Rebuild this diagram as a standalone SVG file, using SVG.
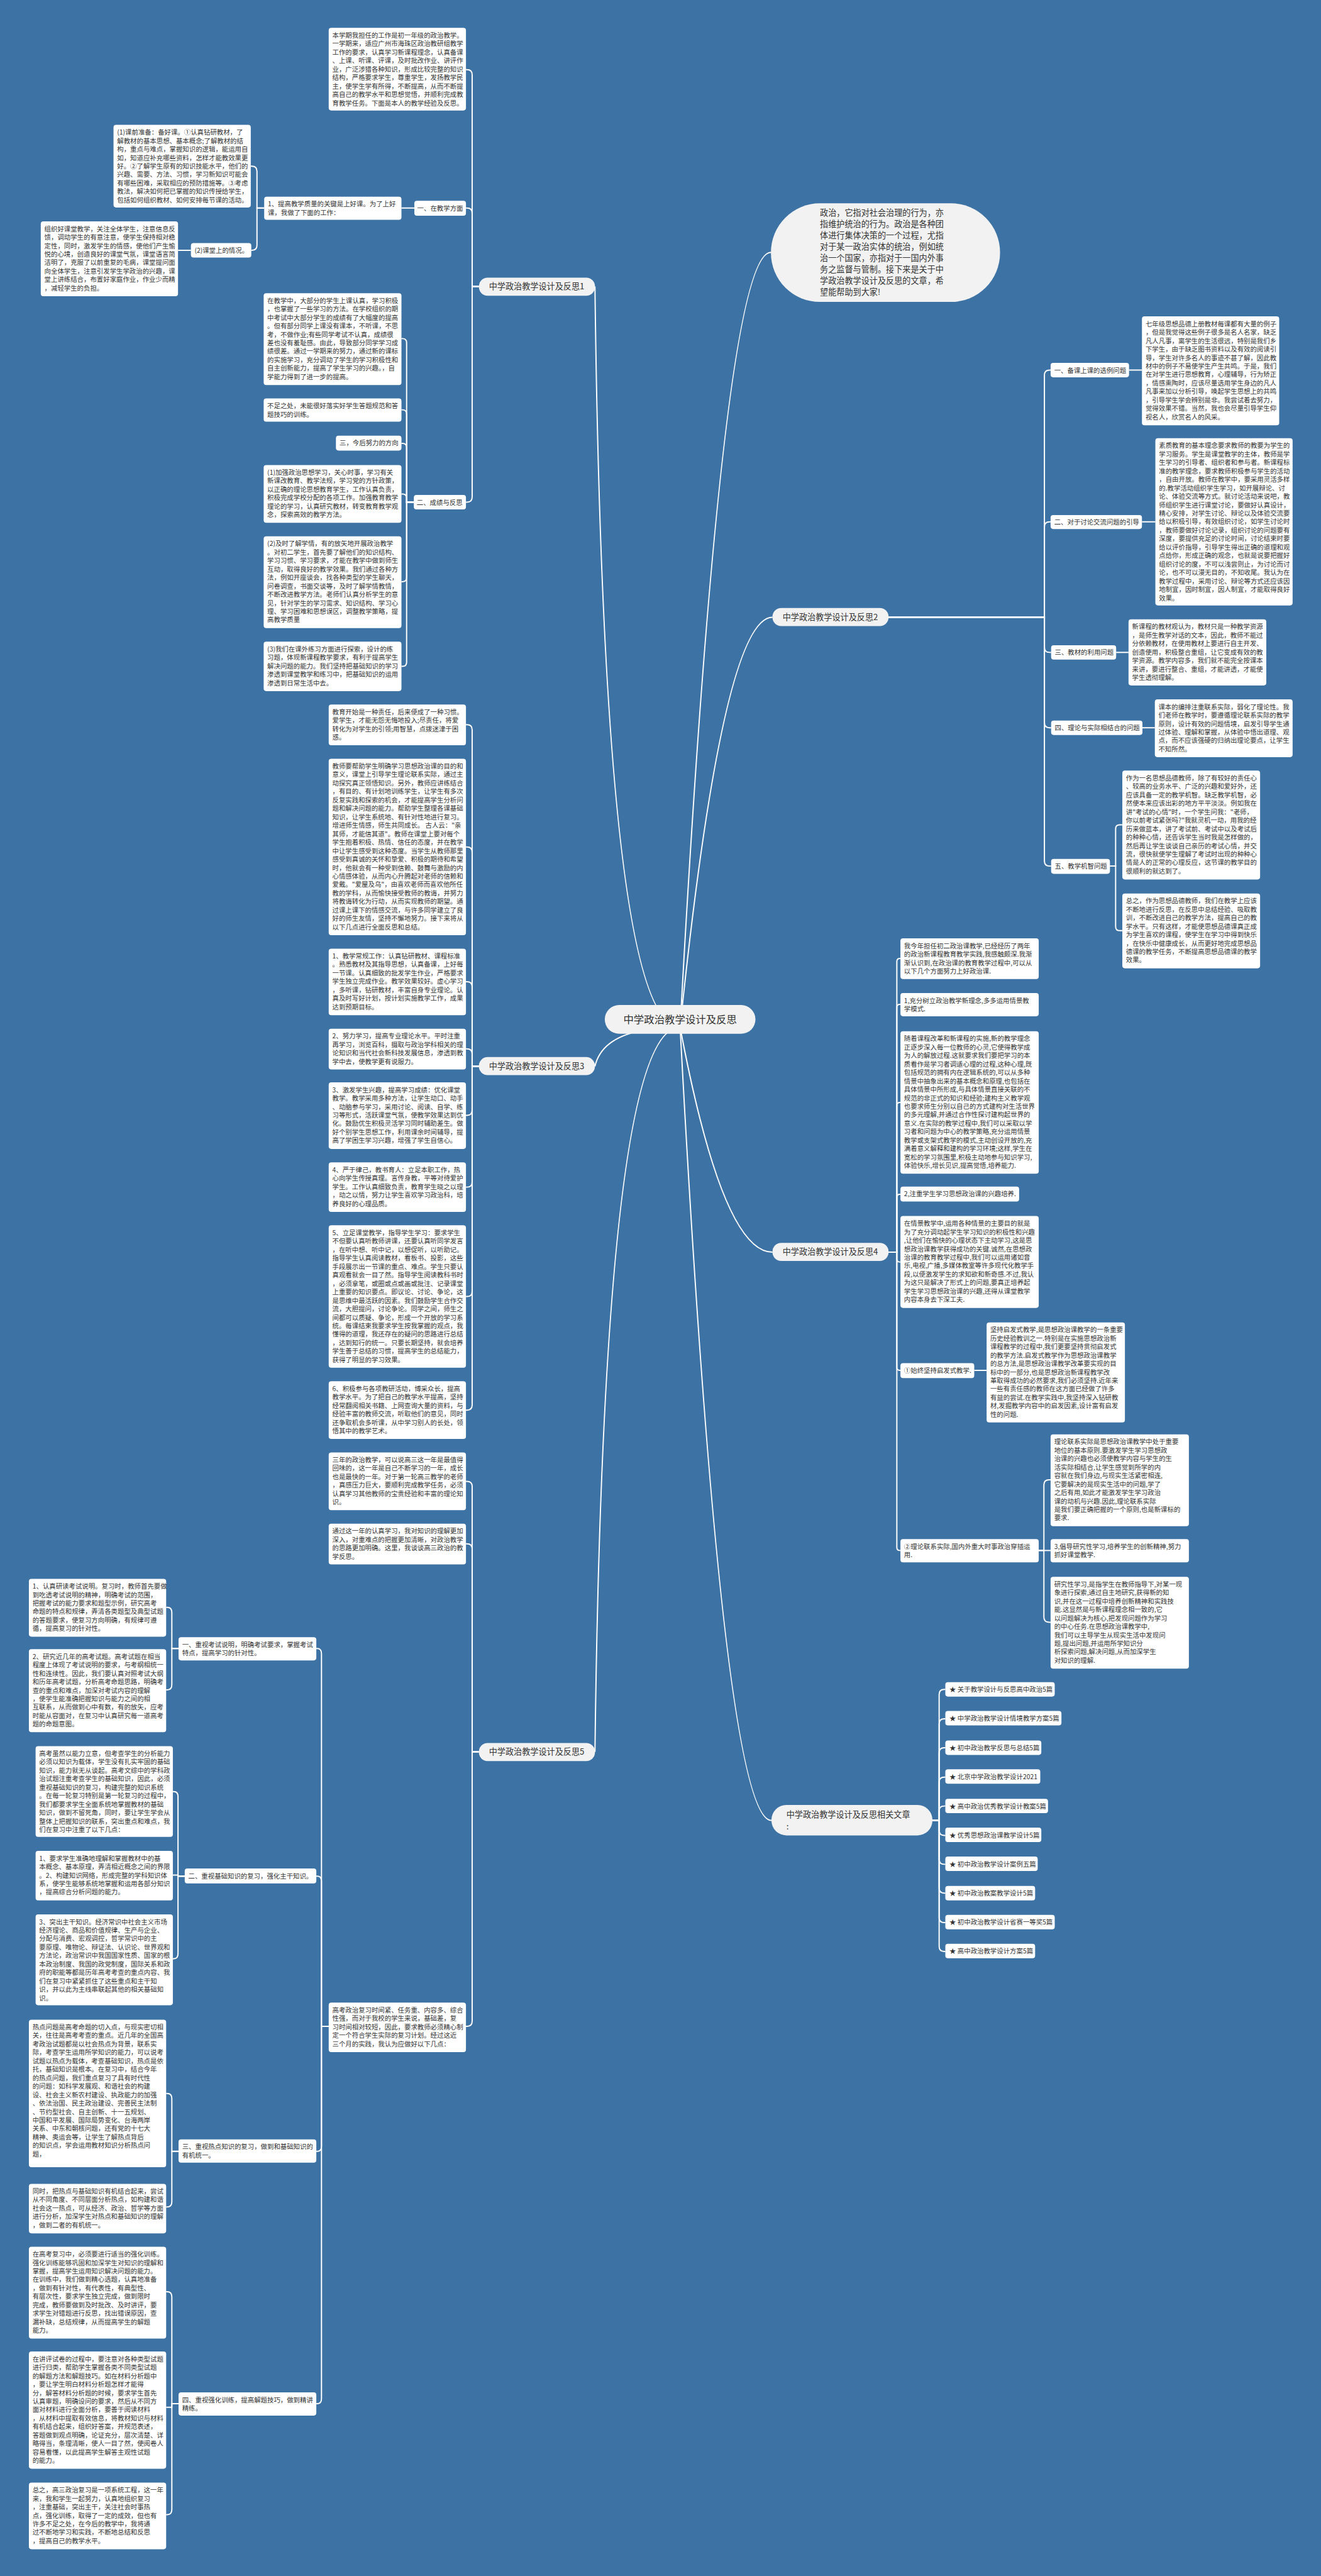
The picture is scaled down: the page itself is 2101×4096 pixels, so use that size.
<svg xmlns="http://www.w3.org/2000/svg" width="2101" height="4096" viewBox="0 0 2101 4096">
<style>
.bg{fill:#3d72a4}
.b{fill:#fff}
.g{fill:#f2f2f2}
.t{font-family:"Noto Sans CJK SC","Noto Sans",sans-serif;font-size:12.7px;fill:#333}
.m{font-family:"Noto Sans CJK SC","Noto Sans",sans-serif;font-size:16px;fill:#333}
.k{font-family:"Noto Sans CJK SC","Noto Sans",sans-serif;font-size:20px;fill:#333}
.c{fill:none;stroke:#fff;stroke-width:2.4}
</style>
<rect class="bg" x="0" y="0" width="2101" height="4096"/>
<g transform="scale(0.8207)">
<g id="connectors">
<path class="c" d="M1318 1990 Q1170 1990 1153 555"/>
<path class="c" d="M1318 1990 Q1170 1990 1153 2066"/>
<path class="c" d="M1318 1990 Q1170 1990 1153 3394"/>
<path class="c" d="M1318 1990 Q1400 489 1494 489"/>
<path class="c" d="M1318 1990 Q1400 1196 1497 1196"/>
<path class="c" d="M1318 1990 Q1400 2426 1497 2426"/>
<path class="c" d="M1318 1990 Q1400 3527 1495 3527"/>
<path class="c" d="M928 555H915V145Q915 135 905 135H903"/>
<path class="c" d="M928 555H915V413Q915 403 905 403H903"/>
<path class="c" d="M928 555H915V963Q915 973 905 973H903"/>
<path class="c" d="M803 403H778"/>
<path class="c" d="M512 403H498V332Q498 322 488 322H486"/>
<path class="c" d="M512 403H498V475Q498 485 488 485H487"/>
<path class="c" d="M370 485H345"/>
<path class="c" d="M802 973H788V664Q788 656 780 656H778"/>
<path class="c" d="M802 973H788V802Q788 794 780 794H778"/>
<path class="c" d="M802 973H788V867Q788 859 780 859H778"/>
<path class="c" d="M802 973H788V965Q788 957 780 957H778"/>
<path class="c" d="M802 973H788V1119Q788 1127 780 1127H778"/>
<path class="c" d="M802 973H788V1283Q788 1291 780 1291H778"/>
<path class="c" d="M1722 1196H2024V727Q2024 717 2034 717H2036"/>
<path class="c" d="M1722 1196H2024V1021Q2024 1011 2034 1011H2036"/>
<path class="c" d="M1722 1196H2024V1254Q2024 1264 2034 1264H2037"/>
<path class="c" d="M1722 1196H2024V1400Q2024 1410 2034 1410H2037"/>
<path class="c" d="M1722 1196H2024V1668Q2024 1678 2034 1678H2037"/>
<path class="c" d="M2188 717H2213"/>
<path class="c" d="M2213 1011H2239"/>
<path class="c" d="M2163 1264H2187"/>
<path class="c" d="M2214 1410H2238"/>
<path class="c" d="M2151 1678H2162V1606Q2162 1598 2170 1598H2175"/>
<path class="c" d="M2151 1678H2162V1795Q2162 1803 2170 1803H2175"/>
<path class="c" d="M928 2066H915V1414Q915 1404 905 1404H903"/>
<path class="c" d="M928 2066H915V1651Q915 1641 905 1641H903"/>
<path class="c" d="M928 2066H915V1912Q915 1902 905 1902H903"/>
<path class="c" d="M928 2066H915V2042Q915 2032 905 2032H903"/>
<path class="c" d="M928 2066H915V2151Q915 2161 905 2161H903"/>
<path class="c" d="M928 2066H915V2290Q915 2300 905 2300H903"/>
<path class="c" d="M928 2066H915V2502Q915 2512 905 2512H903"/>
<path class="c" d="M928 2066H915V2722Q915 2732 905 2732H903"/>
<path class="c" d="M928 3394H915V2880Q915 2870 905 2870H903"/>
<path class="c" d="M928 3394H915V3001Q915 2991 905 2991H903"/>
<path class="c" d="M928 3394H915V3916Q915 3926 905 3926H903"/>
<path class="c" d="M637 3926H623V3204Q623 3194 615 3194H613"/>
<path class="c" d="M637 3926H623V3645Q623 3635 615 3635H613"/>
<path class="c" d="M637 3926H623V4158Q623 4168 615 4168H613"/>
<path class="c" d="M637 3926H623V4647Q623 4657 615 4657H613"/>
<path class="c" d="M346 3194H333V3124Q333 3114 324 3114H322"/>
<path class="c" d="M346 3194H333V3264Q333 3274 324 3274H322"/>
<path class="c" d="M358 3635H345V3481Q345 3471 337 3471H335"/>
<path class="c" d="M358 3635H345V3633H335"/>
<path class="c" d="M358 3635H345V3785Q345 3795 337 3795H335"/>
<path class="c" d="M346 4168H333V4066Q333 4056 324 4056H322"/>
<path class="c" d="M346 4168H333V4266Q333 4276 324 4276H322"/>
<path class="c" d="M346 4657H333V4450Q333 4440 324 4440H322"/>
<path class="c" d="M346 4657H333V4664H322"/>
<path class="c" d="M346 4657H333V4862Q333 4872 324 4872H322"/>
<path class="c" d="M1722 2426H1738V1863Q1738 1857 1744 1857H1745"/>
<path class="c" d="M1722 2426H1738V1952Q1738 1946 1744 1946H1745"/>
<path class="c" d="M1722 2426H1738V2142Q1738 2136 1744 2136H1745"/>
<path class="c" d="M1722 2426H1738V2320Q1738 2314 1744 2314H1745"/>
<path class="c" d="M1722 2426H1738V2439Q1738 2445 1744 2445H1745"/>
<path class="c" d="M1722 2426H1738V2649Q1738 2655 1744 2655H1745"/>
<path class="c" d="M1722 2426H1738V2998Q1738 3004 1744 3004H1745"/>
<path class="c" d="M1888 2655H1912"/>
<path class="c" d="M2013 3004H2023V2877Q2023 2867 2033 2867H2036"/>
<path class="c" d="M2013 3004H2036"/>
<path class="c" d="M2013 3004H2023V3133Q2023 3143 2033 3143H2036"/>
<path class="c" d="M1807 3527H1820V3283Q1820 3273 1830 3273H1832"/>
<path class="c" d="M1807 3527H1820V3340Q1820 3330 1830 3330H1832"/>
<path class="c" d="M1807 3527H1820V3396Q1820 3386 1830 3386H1832"/>
<path class="c" d="M1807 3527H1820V3453Q1820 3443 1830 3443H1832"/>
<path class="c" d="M1807 3527H1820V3509Q1820 3499 1830 3499H1832"/>
<path class="c" d="M1807 3527H1820V3546Q1820 3556 1830 3556H1832"/>
<path class="c" d="M1807 3527H1820V3602Q1820 3612 1830 3612H1832"/>
<path class="c" d="M1807 3527H1820V3658Q1820 3668 1830 3668H1832"/>
<path class="c" d="M1807 3527H1820V3715Q1820 3725 1830 3725H1832"/>
<path class="c" d="M1807 3527H1820V3771Q1820 3781 1830 3781H1832"/>
</g>

<g id="center"><rect class="g" x="1172" y="1947" width="292" height="56" rx="28"/><text class="k" x="1318" y="1982" text-anchor="middle">中学政治教学设计及反思</text></g>

<g id="intro"><rect class="g" x="1494" y="394" width="444" height="191" rx="95"/><text class="m" x="1589" y="418"><tspan x="1589">政治，它指对社会治理的行为，亦</tspan><tspan x="1589" dy="21.9">指维护统治的行为。政治是各种团</tspan><tspan x="1589" dy="21.9">体进行集体决策的一个过程，尤指</tspan><tspan x="1589" dy="21.9">对于某一政治实体的统治，例如统</tspan><tspan x="1589" dy="21.9">治一个国家，亦指对于一国内外事</tspan><tspan x="1589" dy="21.9">务之监督与管制。接下来是关于中</tspan><tspan x="1589" dy="21.9">学政治教学设计及反思的文章，希</tspan><tspan x="1589" dy="21.9">望能帮助到大家!</tspan></text></g>

<g id="br1"><rect class="g" x="928" y="538" width="225" height="35" rx="17"/><text class="m" x="1040" y="561" text-anchor="middle">中学政治教学设计及反思1</text></g>
<g id="b1a"><rect class="b" x="637" y="54" width="266" height="160" rx="5"/><text class="t" x="644" y="73"><tspan x="644">本学期我担任的工作是初一年级的政治教学。</tspan><tspan x="644" dy="16.4">一学期来，适应广州市海珠区政治教研组教学</tspan><tspan x="644" dy="16.4">工作的要求，认真学习新课程理念，认真备课</tspan><tspan x="644" dy="16.4">、上课、听课、评课，及时批改作业、讲评作</tspan><tspan x="644" dy="16.4">业，广泛涉猎各种知识，形成比较完整的知识</tspan><tspan x="644" dy="16.4">结构，严格要求学生，尊重学生，发扬教学民</tspan><tspan x="644" dy="16.4">主，使学生学有所得，不断提高，从而不断提</tspan><tspan x="644" dy="16.4">高自己的教学水平和思想觉悟，并顺利完成教</tspan><tspan x="644" dy="16.4">育教学任务。下面是本人的教学经验及反思。</tspan></text></g>
<g id="b1s1"><rect class="b" x="803" y="389" width="100" height="29" rx="5"/><text class="t" x="853" y="408" text-anchor="middle">一、在教学方面</text></g>
<g id="b1s1a"><rect class="b" x="512" y="381" width="266" height="45" rx="5"/><text class="t" x="519" y="400"><tspan x="519">1、提高教学质量的关键是上好课。为了上好</tspan><tspan x="519" dy="16.4">课，我做了下面的工作：</tspan></text></g>
<g id="b1p1"><rect class="b" x="220" y="242" width="266" height="160" rx="5"/><text class="t" x="227" y="261"><tspan x="227">(1)课前准备：备好课。①认真钻研教材，了</tspan><tspan x="227" dy="16.4">解教材的基本思想、基本概念;了解教材的结</tspan><tspan x="227" dy="16.4">构，重点与难点，掌握知识的逻辑，能运用自</tspan><tspan x="227" dy="16.4">如，知道应补充哪些资料，怎样才能教效果更</tspan><tspan x="227" dy="16.4">好。②了解学生原有的知识技能水平，他们的</tspan><tspan x="227" dy="16.4">兴趣、需要、方法、习惯，学习新知识可能会</tspan><tspan x="227" dy="16.4">有哪些困难，采取相应的预防措施等。③考虑</tspan><tspan x="227" dy="16.4">教法，解决如何把已掌握的知识传授给学生，</tspan><tspan x="227" dy="16.4">包括如何组织教材、如何安排每节课的活动。</tspan></text></g>
<g id="b1p2"><rect class="b" x="370" y="471" width="117" height="28" rx="5"/><text class="t" x="377" y="490">(2)课堂上的情况。</text></g>
<g id="b1p2a"><rect class="b" x="79" y="429" width="266" height="145" rx="5"/><text class="t" x="86" y="448"><tspan x="86">组织好课堂教学，关注全体学生，注意信息反</tspan><tspan x="86" dy="16.4">馈，调动学生的有意注意，使学生保持相对稳</tspan><tspan x="86" dy="16.4">定性，同时，激发学生的情感，使他们产生愉</tspan><tspan x="86" dy="16.4">悦的心境，创造良好的课堂气氛，课堂语言简</tspan><tspan x="86" dy="16.4">洁明了，克服了以前重复的毛病，课堂提问面</tspan><tspan x="86" dy="16.4">向全体学生，注意引发学生学政治的兴趣，课</tspan><tspan x="86" dy="16.4">堂上讲练结合，布置好家庭作业，作业少而精</tspan><tspan x="86" dy="16.4">，减轻学生的负担。</tspan></text></g>
<g id="b1s2"><rect class="b" x="802" y="959" width="101" height="28" rx="5"/><text class="t" x="852" y="978" text-anchor="middle">二、成绩与反思</text></g>
<g id="b1b"><rect class="b" x="511" y="568" width="267" height="178" rx="5"/><text class="t" x="518" y="587"><tspan x="518">在教学中，大部分的学生上课认真，学习积极</tspan><tspan x="518" dy="16.4">，也掌握了一些学习的方法。在学校组织的期</tspan><tspan x="518" dy="16.4">中考试中大部分学生的成绩有了大幅度的提高</tspan><tspan x="518" dy="16.4">。但有部分同学上课没有课本，不听课，不思</tspan><tspan x="518" dy="16.4">考，不做作业;有些同学考试不认真，成绩很</tspan><tspan x="518" dy="16.4">差也没有羞耻感。由此，导致部分同学学习成</tspan><tspan x="518" dy="16.4">绩很差。通过一学期来的努力，通过新的课标</tspan><tspan x="518" dy="16.4">的实施学习，充分调动了学生的学习积极性和</tspan><tspan x="518" dy="16.4">自主创新能力，提高了学生学习的兴趣。，自</tspan><tspan x="518" dy="16.4">学能力得到了进一步的提高。</tspan></text></g>
<g id="b1c"><rect class="b" x="511" y="772" width="267" height="45" rx="5"/><text class="t" x="518" y="791"><tspan x="518">不足之处，未能很好落实好学生答题规范和答</tspan><tspan x="518" dy="16.4">题技巧的训练。</tspan></text></g>
<g id="b1d0"><rect class="b" x="651" y="844" width="127" height="29" rx="5"/><text class="t" x="658" y="863">三，今后努力的方向</text></g>
<g id="b1d"><rect class="b" x="511" y="901" width="267" height="112" rx="5"/><text class="t" x="518" y="920"><tspan x="518">(1)加强政治思想学习，关心时事，学习有关</tspan><tspan x="518" dy="16.4">新课改教育、教学法规，学习党的方针政策，</tspan><tspan x="518" dy="16.4">以正确的理论思想教育学生，工作认真负责，</tspan><tspan x="518" dy="16.4">积极完成学校分配的各项工作。加强教育教学</tspan><tspan x="518" dy="16.4">理论的学习，认真研究教材，转变教育教学观</tspan><tspan x="518" dy="16.4">念，探索高效的教学方法。</tspan></text></g>
<g id="b1e"><rect class="b" x="511" y="1039" width="267" height="178" rx="5"/><text class="t" x="518" y="1058"><tspan x="518">(2)及时了解学情，有的放矢地开展政治教学</tspan><tspan x="518" dy="16.4">。对初二学生，首先要了解他们的知识结构、</tspan><tspan x="518" dy="16.4">学习习惯、学习要求，才能在教学中做到师生</tspan><tspan x="518" dy="16.4">互动，取得良好的教学效果。我们通过各种方</tspan><tspan x="518" dy="16.4">法，例如开座谈会，找各种类型的学生聊天，</tspan><tspan x="518" dy="16.4">问卷调查，书面交谈等，及时了解学情教情，</tspan><tspan x="518" dy="16.4">不断改进教学方法。老师们认真分析学生的意</tspan><tspan x="518" dy="16.4">见，针对学生的学习需求、知识结构、学习心</tspan><tspan x="518" dy="16.4">理、学习困难和思想误区，调整教学策略，提</tspan><tspan x="518" dy="16.4">高教学质量</tspan></text></g>
<g id="b1f"><rect class="b" x="511" y="1243" width="267" height="96" rx="5"/><text class="t" x="518" y="1262"><tspan x="518">(3)我们在课外练习方面进行探索，设计的练</tspan><tspan x="518" dy="16.4">习题，体现新课程教学要求，有利于提高学生</tspan><tspan x="518" dy="16.4">解决问题的能力。我们坚持把基础知识的学习</tspan><tspan x="518" dy="16.4">渗透到课堂教学和练习中，把基础知识的运用</tspan><tspan x="518" dy="16.4">渗透到日常生活中去。</tspan></text></g>

<g id="br2"><rect class="g" x="1497" y="1178" width="225" height="35" rx="17"/><text class="m" x="1609" y="1201" text-anchor="middle">中学政治教学设计及反思2</text></g>
<g id="b2s1"><rect class="b" x="2036" y="703" width="152" height="28" rx="5"/><text class="t" x="2043" y="722">一、备课上课的选例问题</text></g>
<g id="b2g"><rect class="b" x="2213" y="613" width="266" height="211" rx="5"/><text class="t" x="2220" y="632"><tspan x="2220">七年级思想品德上册教材每课都有大量的例子</tspan><tspan x="2220" dy="16.4">，但是我觉得这些例子很多是名人名家，缺乏</tspan><tspan x="2220" dy="16.4">凡人凡事，离学生的生活很远，特别是我们乡</tspan><tspan x="2220" dy="16.4">下学生，由于缺乏图书资料以及有效的阅读引</tspan><tspan x="2220" dy="16.4">导，学生对许多名人的事迹不甚了解，因此教</tspan><tspan x="2220" dy="16.4">材中的例子不易使学生产生共鸣。于是，我们</tspan><tspan x="2220" dy="16.4">在对学生进行思想教育，心理辅导，行为矫正</tspan><tspan x="2220" dy="16.4">，情感熏陶时，应该尽量选用学生身边的凡人</tspan><tspan x="2220" dy="16.4">凡事来加以分析引导，唤起学生思想上的共鸣</tspan><tspan x="2220" dy="16.4">，引导学生学会辨别是非。我尝试着去努力，</tspan><tspan x="2220" dy="16.4">觉得效果不错。当然，我也会尽量引导学生仰</tspan><tspan x="2220" dy="16.4">视名人，欣赏名人的风采。</tspan></text></g>
<g id="b2s2"><rect class="b" x="2036" y="998" width="177" height="27" rx="5"/><text class="t" x="2043" y="1016">二、对于讨论交流问题的引导</text></g>
<g id="b2h"><rect class="b" x="2239" y="849" width="266" height="324" rx="5"/><text class="t" x="2246" y="868"><tspan x="2246">素质教育的基本理念要求教师的教要为学生的</tspan><tspan x="2246" dy="16.4">学习服务。学生是课堂教学的主体，教师是学</tspan><tspan x="2246" dy="16.4">生学习的引导者、组织者和参与者。新课程标</tspan><tspan x="2246" dy="16.4">准的教学理念，要求教师积极参与学生的活动</tspan><tspan x="2246" dy="16.4">，自由开放。教师在教学中，要采用灵活多样</tspan><tspan x="2246" dy="16.4">的.教学活动组织学生学习，如开展辩论、讨</tspan><tspan x="2246" dy="16.4">论、体验交流等方式。就讨论活动来说吧，教</tspan><tspan x="2246" dy="16.4">师组织学生进行课堂讨论，要做好认真设计，</tspan><tspan x="2246" dy="16.4">精心安排，对学生讨论、辩论以及体验交流要</tspan><tspan x="2246" dy="16.4">给以积极引导，有效组织讨论，如学生讨论时</tspan><tspan x="2246" dy="16.4">，教师要做好讨论记录，组织讨论的问题要有</tspan><tspan x="2246" dy="16.4">深度，要提供充足的讨论时间，讨论结束时要</tspan><tspan x="2246" dy="16.4">给以评价指导，引导学生得出正确的道理和观</tspan><tspan x="2246" dy="16.4">点给你，形成正确的观念，也就是说要把握好</tspan><tspan x="2246" dy="16.4">组织讨论的度，不可以浅尝则止，为讨论而讨</tspan><tspan x="2246" dy="16.4">论，也不可以漫无目的，不知收尾。我认为在</tspan><tspan x="2246" dy="16.4">教学过程中，采用讨论、辩论等方式还应该因</tspan><tspan x="2246" dy="16.4">地制宜，因时制宜，因人制宜，才能取得良好</tspan><tspan x="2246" dy="16.4">效果。</tspan></text></g>
<g id="b2s3"><rect class="b" x="2037" y="1250" width="126" height="28" rx="5"/><text class="t" x="2044" y="1269">三、教材的利用问题</text></g>
<g id="b2i"><rect class="b" x="2187" y="1200" width="267" height="128" rx="5"/><text class="t" x="2194" y="1219"><tspan x="2194">新课程的教材观认为，教材只是一种教学资源</tspan><tspan x="2194" dy="16.4">，是师生教学对话的文本，因此，教师不能过</tspan><tspan x="2194" dy="16.4">分依赖教材，在使用教材上要进行自主开发、</tspan><tspan x="2194" dy="16.4">创造使用，积极整合重组，让它变成有效的教</tspan><tspan x="2194" dy="16.4">学资源。教学内容多，我们就不能完全按课本</tspan><tspan x="2194" dy="16.4">来讲，要进行整合、重组，才能讲透，才能使</tspan><tspan x="2194" dy="16.4">学生透彻理解。</tspan></text></g>
<g id="b2s4"><rect class="b" x="2037" y="1396" width="177" height="28" rx="5"/><text class="t" x="2044" y="1415">四、理论与实际相结合的问题</text></g>
<g id="b2j"><rect class="b" x="2238" y="1355" width="267" height="112" rx="5"/><text class="t" x="2245" y="1374"><tspan x="2245">课本的编排注重联系实际，弱化了理论性。我</tspan><tspan x="2245" dy="16.4">们老师在教学时，要遵循理论联系实际的教学</tspan><tspan x="2245" dy="16.4">原则，设计有效的问题情境，启发引导学生通</tspan><tspan x="2245" dy="16.4">过体验、理解和掌握，从体验中悟出道理、观</tspan><tspan x="2245" dy="16.4">点，而不应该强硬的归纳出理论要点，让学生</tspan><tspan x="2245" dy="16.4">不知所然。</tspan></text></g>
<g id="b2s5"><rect class="b" x="2037" y="1664" width="114" height="29" rx="5"/><text class="t" x="2044" y="1683">五、教学机智问题</text></g>
<g id="b2k"><rect class="b" x="2175" y="1493" width="267" height="211" rx="5"/><text class="t" x="2182" y="1512"><tspan x="2182">作为一名思想品德教师，除了有较好的责任心</tspan><tspan x="2182" dy="16.4">、较高的业务水平、广泛的兴趣和爱好外，还</tspan><tspan x="2182" dy="16.4">应该具备一定的教学机智。缺乏教学机智，必</tspan><tspan x="2182" dy="16.4">然使本来应该出彩的地方平平淡淡。例如我在</tspan><tspan x="2182" dy="16.4">讲"考试的心情"时，一个学生问我："老师，</tspan><tspan x="2182" dy="16.4">你以前考试紧张吗?"我就灵机一动，用我的经</tspan><tspan x="2182" dy="16.4">历来做蓝本，讲了考试前、考试中以及考试后</tspan><tspan x="2182" dy="16.4">的种种心情，还告诉学生当时我是怎样做的，</tspan><tspan x="2182" dy="16.4">然后再让学生谈谈自己亲历的考试心情，并交</tspan><tspan x="2182" dy="16.4">流，很快就使学生理解了考试时出现的种种心</tspan><tspan x="2182" dy="16.4">情是人的正常的心理反应，这节课的教学目的</tspan><tspan x="2182" dy="16.4">很顺利的就达到了。</tspan></text></g>
<g id="b2l"><rect class="b" x="2175" y="1731" width="267" height="145" rx="5"/><text class="t" x="2182" y="1750"><tspan x="2182">总之，作为思想品德教师，我们在教学上应该</tspan><tspan x="2182" dy="16.4">不断地进行反思，在反思中总结经验、吸取教</tspan><tspan x="2182" dy="16.4">训，不断改进自己的教学方法，提高自己的教</tspan><tspan x="2182" dy="16.4">学水平。只有这样，才能使思想品德课真正成</tspan><tspan x="2182" dy="16.4">为学生喜欢的课程，使学生在学习中得到快乐</tspan><tspan x="2182" dy="16.4">，在快乐中健康成长，从而更好地完成思想品</tspan><tspan x="2182" dy="16.4">德课的教学任务，不断提高思想品德课的教学</tspan><tspan x="2182" dy="16.4">效果。</tspan></text></g>

<g id="br3"><rect class="g" x="928" y="2048" width="225" height="35" rx="17"/><text class="m" x="1040" y="2071" text-anchor="middle">中学政治教学设计及反思3</text></g>
<g id="b3m"><rect class="b" x="637" y="1365" width="266" height="79" rx="5"/><text class="t" x="644" y="1384"><tspan x="644">教育开始是一种责任，后来便成了一种习惯。</tspan><tspan x="644" dy="16.4">爱学生，才能无怨无悔地投入;尽责任，将爱</tspan><tspan x="644" dy="16.4">转化为对学生的引领;用智慧，点拨迷津于困</tspan><tspan x="644" dy="16.4">惑。</tspan></text></g>
<g id="b3n"><rect class="b" x="637" y="1470" width="266" height="342" rx="5"/><text class="t" x="644" y="1489"><tspan x="644">教师要帮助学生明确学习思想政治课的目的和</tspan><tspan x="644" dy="16.4">意义，课堂上引导学生理论联系实际，通过主</tspan><tspan x="644" dy="16.4">动探究真正领悟知识。另外，教师应讲练结合</tspan><tspan x="644" dy="16.4">，有目的、有计划地训练学生，让学生有多次</tspan><tspan x="644" dy="16.4">反复实践和探索的机会，才能提高学生分析问</tspan><tspan x="644" dy="16.4">题和解决问题的能力。帮助学生整理各课基础</tspan><tspan x="644" dy="16.4">知识，让学生系统地、有针对性地进行复习。</tspan><tspan x="644" dy="16.4">增进师生情感，师生共同成长。 古人云："亲</tspan><tspan x="644" dy="16.4">其师，才能信其道"。教师在课堂上要对每个</tspan><tspan x="644" dy="16.4">学生抱着积极、热情、信任的态度，并在教学</tspan><tspan x="644" dy="16.4">中让学生感受到这种态度。当学生从教师那里</tspan><tspan x="644" dy="16.4">感受到真诚的关怀和挚爱、积极的期待和希望</tspan><tspan x="644" dy="16.4">时，他就会有一种受到信赖、鼓舞与激励的内</tspan><tspan x="644" dy="16.4">心情感体验，从而内心升腾起对老师的信赖和</tspan><tspan x="644" dy="16.4">爱戴。"爱屋及乌"，由喜欢老师而喜欢他所任</tspan><tspan x="644" dy="16.4">教的学科，从而愉快接受教师的教诲，并努力</tspan><tspan x="644" dy="16.4">将教诲转化为行动，从而实现教师的期望。通</tspan><tspan x="644" dy="16.4">过课上课下的情感交流，与许多同学建立了良</tspan><tspan x="644" dy="16.4">好的师生友情，坚持不懈地努力。接下来将从</tspan><tspan x="644" dy="16.4">以下几点进行全面反思和总结。</tspan></text></g>
<g id="b3o"><rect class="b" x="637" y="1838" width="266" height="129" rx="5"/><text class="t" x="644" y="1857"><tspan x="644">1、教学常规工作：认真钻研教材、课程标准</tspan><tspan x="644" dy="16.4">。熟悉教材及其指导思想，认真备课，上好每</tspan><tspan x="644" dy="16.4">一节课。认真细致的批发学生作业，严格要求</tspan><tspan x="644" dy="16.4">学生独立完成作业。教学效果较好。虚心学习</tspan><tspan x="644" dy="16.4">，多听课，钻研教材，丰富自身专业理论。认</tspan><tspan x="644" dy="16.4">真及时写好计划，按计划实施教学工作，成果</tspan><tspan x="644" dy="16.4">达到预期目标。</tspan></text></g>
<g id="b3p"><rect class="b" x="637" y="1993" width="266" height="79" rx="5"/><text class="t" x="644" y="2012"><tspan x="644">2、努力学习，提高专业理论水平。平时注重</tspan><tspan x="644" dy="16.4">再学习，浏览百科，摄取与政治学科相关的理</tspan><tspan x="644" dy="16.4">论知识和当代社会新科技发展信息，渗透到教</tspan><tspan x="644" dy="16.4">学中去，使教学更有说服力。</tspan></text></g>
<g id="b3q"><rect class="b" x="637" y="2097" width="266" height="129" rx="5"/><text class="t" x="644" y="2116"><tspan x="644">3、激发学生兴趣，提高学习成绩：优化课堂</tspan><tspan x="644" dy="16.4">教学。教学采用多种方法，让学生动口、动手</tspan><tspan x="644" dy="16.4">、动脑参与学习，采用讨论、阅读、自学、练</tspan><tspan x="644" dy="16.4">习等形式，活跃课堂气氛，使教学效果达到优</tspan><tspan x="644" dy="16.4">化。鼓励优生积极灵活学习同时辅助差生。做</tspan><tspan x="644" dy="16.4">好个别学生思想工作，利用课余时间辅导，提</tspan><tspan x="644" dy="16.4">高了学困生学习兴趣，增强了学生自信心。</tspan></text></g>
<g id="b3r"><rect class="b" x="637" y="2252" width="266" height="96" rx="5"/><text class="t" x="644" y="2271"><tspan x="644">4、严于律己，教书育人：立足本职工作，热</tspan><tspan x="644" dy="16.4">心向学生传授真理。言传身教，平等对待爱护</tspan><tspan x="644" dy="16.4">学生。工作认真细致负责，教育学生晓之以理</tspan><tspan x="644" dy="16.4">，动之以情，努力让学生喜欢学习政治科，培</tspan><tspan x="644" dy="16.4">养良好的心理品质。</tspan></text></g>
<g id="b3s"><rect class="b" x="637" y="2374" width="266" height="276" rx="5"/><text class="t" x="644" y="2393"><tspan x="644">5、立足课堂教学，指导学生学习：要求学生</tspan><tspan x="644" dy="16.4">不但要认真听教师讲课，还要认真听同学发言</tspan><tspan x="644" dy="16.4">，在听中想、听中记，以想促听，以听助记。</tspan><tspan x="644" dy="16.4">指导学生认真阅读教材，看板书、投影，这些</tspan><tspan x="644" dy="16.4">手段展示出一节课的重点、难点。学生只要认</tspan><tspan x="644" dy="16.4">真观看就会一目了然。指导学生阅读教科书时</tspan><tspan x="644" dy="16.4">，必须拿笔，或圈或点或画或批注、记录课堂</tspan><tspan x="644" dy="16.4">上重要的知识要点。即议论、讨论、争论，这</tspan><tspan x="644" dy="16.4">是思维中最活跃的因素。我们鼓励学生合作交</tspan><tspan x="644" dy="16.4">流，大胆提问，讨论争论。同学之间，师生之</tspan><tspan x="644" dy="16.4">间都可以质疑、争论，形成一个开放的学习系</tspan><tspan x="644" dy="16.4">统。每课结束我要求学生按我掌握的观点，我</tspan><tspan x="644" dy="16.4">懂得的道理，我还存在的疑问的思路进行总结</tspan><tspan x="644" dy="16.4">，达到知行的统一。只要长期坚持，就会培养</tspan><tspan x="644" dy="16.4">学生善于总结的习惯，提高学生的总结能力，</tspan><tspan x="644" dy="16.4">获得了明显的学习效果。</tspan></text></g>
<g id="b3t"><rect class="b" x="637" y="2676" width="266" height="112" rx="5"/><text class="t" x="644" y="2695"><tspan x="644">6、积极参与各项教研活动，博采众长，提高</tspan><tspan x="644" dy="16.4">教学水平。为了把自己的教学水平提高，坚持</tspan><tspan x="644" dy="16.4">经常翻阅相关书籍、上网查询大量的资料，与</tspan><tspan x="644" dy="16.4">经验丰富的教师交流，听取他们的意见，同时</tspan><tspan x="644" dy="16.4">还争取机会多听课，从中学习别人的长处，领</tspan><tspan x="644" dy="16.4">悟其中的教学艺术。</tspan></text></g>

<g id="br5"><rect class="g" x="928" y="3377" width="225" height="35" rx="17"/><text class="m" x="1040" y="3400" text-anchor="middle">中学政治教学设计及反思5</text></g>
<g id="b5u"><rect class="b" x="637" y="2814" width="266" height="112" rx="5"/><text class="t" x="644" y="2833"><tspan x="644">三年的政治教学，可以说高三这一年是最值得</tspan><tspan x="644" dy="16.4">回味的，这一年是自己不断学习的一年，成长</tspan><tspan x="644" dy="16.4">也是最快的一年。对于第一轮高三教学的老师</tspan><tspan x="644" dy="16.4">，真感压力巨大，要顺利完成教学任务，必须</tspan><tspan x="644" dy="16.4">认真学习其他教师的宝贵经验和丰富的理论知</tspan><tspan x="644" dy="16.4">识。</tspan></text></g>
<g id="b5v"><rect class="b" x="637" y="2952" width="266" height="79" rx="5"/><text class="t" x="644" y="2971"><tspan x="644">通过这一年的认真学习，我对知识的理解更加</tspan><tspan x="644" dy="16.4">深入，对重难点的把握更加清晰，对政治教学</tspan><tspan x="644" dy="16.4">的思路更加明确。这里，我谈谈高三政治的教</tspan><tspan x="644" dy="16.4">学反思。</tspan></text></g>
<g id="b5w"><rect class="b" x="637" y="3880" width="266" height="96" rx="5"/><text class="t" x="644" y="3899"><tspan x="644">高考政治复习时间紧、任务重、内容多、综合</tspan><tspan x="644" dy="16.4">性强，而对于我校的学生来说，基础差，复</tspan><tspan x="644" dy="16.4">习时间相对较短，因此，要求教师必须精心制</tspan><tspan x="644" dy="16.4">定一个符合学生实际的复习计划。经过这近</tspan><tspan x="644" dy="16.4">三个月的实践，我认为应做好以下几点：</tspan></text></g>
<g id="b5s1"><rect class="b" x="346" y="3172" width="267" height="45" rx="5"/><text class="t" x="353" y="3191"><tspan x="353">一、重视考试说明，明确考试要求，掌握考试</tspan><tspan x="353" dy="16.4">特点，提高学习的针对性。</tspan></text></g>
<g id="b5s2"><rect class="b" x="358" y="3620" width="255" height="29" rx="5"/><text class="t" x="365" y="3639">二、重视基础知识的复习，强化主干知识。</text></g>
<g id="b5s3"><rect class="b" x="346" y="4145" width="267" height="45" rx="5"/><text class="t" x="353" y="4164"><tspan x="353">三、重视热点知识的复习，做到和基础知识的</tspan><tspan x="353" dy="16.4">有机统一。</tspan></text></g>
<g id="b5s4"><rect class="b" x="346" y="4635" width="267" height="45" rx="5"/><text class="t" x="353" y="4654"><tspan x="353">四、重视强化训练，提高解题技巧，做到精讲</tspan><tspan x="353" dy="16.4">精练。</tspan></text></g>
<g id="b5z1"><rect class="b" x="56" y="3059" width="266" height="112" rx="5"/><text class="t" x="63" y="3078"><tspan x="63">1、认真研读考试说明。复习时，教师首先要做</tspan><tspan x="63" dy="16.4">到吃透考试说明的精神，明确考试的范围，</tspan><tspan x="63" dy="16.4">把握考试的能力要求和题型示例，研究高考</tspan><tspan x="63" dy="16.4">命题的特点和规律，弄清各类题型及典型试题</tspan><tspan x="63" dy="16.4">的答题要求，使复习方向明确，有规律可遵</tspan><tspan x="63" dy="16.4">循，提高复习的针对性。</tspan></text></g>
<g id="b5z2"><rect class="b" x="56" y="3195" width="266" height="161" rx="5"/><text class="t" x="63" y="3214"><tspan x="63">2、研究近几年的高考试题。高考试题在相当</tspan><tspan x="63" dy="16.4">程度上体现了考试说明的要求，与考纲相统一</tspan><tspan x="63" dy="16.4">性和连续性。因此，我们要认真对照考试大纲</tspan><tspan x="63" dy="16.4">和历年高考试题，分析高考命题思路，明确考</tspan><tspan x="63" dy="16.4">查的重点和难点，加深对考试内容的理解</tspan><tspan x="63" dy="16.4">，使学生能准确把握知识与能力之间的相</tspan><tspan x="63" dy="16.4">互联系，从而做到心中有数，有的放矢，应考</tspan><tspan x="63" dy="16.4">时能从容面对，在复习中认真研究每一道高考</tspan><tspan x="63" dy="16.4">题的命题意图。</tspan></text></g>
<g id="b5z3"><rect class="b" x="69" y="3383" width="266" height="176" rx="5"/><text class="t" x="76" y="3402"><tspan x="76">高考虽然以能力立意，但考查学生的分析能力</tspan><tspan x="76" dy="16.4">必须以知识为载体，学生没有扎实牢固的基础</tspan><tspan x="76" dy="16.4">知识，能力就无从谈起。高考文综中的学科政</tspan><tspan x="76" dy="16.4">治试题注重考查学生的基础知识，因此，必须</tspan><tspan x="76" dy="16.4">重视基础知识的复习，构建完整的知识系统</tspan><tspan x="76" dy="16.4">。在每一轮复习特别是第一轮复习的过程中，</tspan><tspan x="76" dy="16.4">我们都要求学生全面系统地掌握教材的基础</tspan><tspan x="76" dy="16.4">知识，做到不留死角，同时，要让学生学会从</tspan><tspan x="76" dy="16.4">整体上把握知识的联系，突出重点和难点，我</tspan><tspan x="76" dy="16.4">们在复习中注重了以下几点：</tspan></text></g>
<g id="b5z4"><rect class="b" x="69" y="3586" width="266" height="96" rx="5"/><text class="t" x="76" y="3605"><tspan x="76">1、要求学生准确地理解和掌握教材中的基</tspan><tspan x="76" dy="16.4">本概念、基本原理，弄清相近概念之间的界限</tspan><tspan x="76" dy="16.4">。2、构建知识网络，形成完整的学科知识体</tspan><tspan x="76" dy="16.4">系，使学生能够系统地掌握和运用各部分知识</tspan><tspan x="76" dy="16.4">，提高综合分析问题的能力。</tspan></text></g>
<g id="b5z5"><rect class="b" x="69" y="3709" width="266" height="176" rx="5"/><text class="t" x="76" y="3728"><tspan x="76">3、突出主干知识。经济常识中社会主义市场</tspan><tspan x="76" dy="16.4">经济理论、商品和价值规律、生产与企业、</tspan><tspan x="76" dy="16.4">分配与消费、宏观调控，哲学常识中的主</tspan><tspan x="76" dy="16.4">要原理、唯物论、辩证法、认识论、世界观和</tspan><tspan x="76" dy="16.4">方法论，政治常识中我国国家性质、国家的根</tspan><tspan x="76" dy="16.4">本政治制度、我国的政党制度，国际关系和政</tspan><tspan x="76" dy="16.4">府的职能等都是历年高考考查的重点内容、我</tspan><tspan x="76" dy="16.4">们在复习中紧紧抓住了这些重点和主干知</tspan><tspan x="76" dy="16.4">识，并以此为主线串联起其他的相关基础知</tspan><tspan x="76" dy="16.4">识。</tspan></text></g>
<g id="b5z6"><rect class="b" x="56" y="3913" width="266" height="286" rx="5"/><text class="t" x="63" y="3932"><tspan x="63">热点问题是高考命题的切入点，与现实密切相</tspan><tspan x="63" dy="16.4">关，往往是高考考查的重点。近几年的全国高</tspan><tspan x="63" dy="16.4">考政治试题都是以社会热点为背景，联系实</tspan><tspan x="63" dy="16.4">际，考查学生运用所学知识的能力，可以说考</tspan><tspan x="63" dy="16.4">试题以热点为载体，考查基础知识，热点是依</tspan><tspan x="63" dy="16.4">托，基础知识是根本。在复习中，结合今年</tspan><tspan x="63" dy="16.4">的热点问题，我们重点复习了具有时代性</tspan><tspan x="63" dy="16.4">的问题：如科学发展观、和谐社会的构建</tspan><tspan x="63" dy="16.4">设、社会主义新农村建设、执政能力的加强</tspan><tspan x="63" dy="16.4">、依法治国、民主政治建设、完善民主法制</tspan><tspan x="63" dy="16.4">、节约型社会、自主创新、十一五规划、</tspan><tspan x="63" dy="16.4">中国和平发展、国际局势变化、台海两岸</tspan><tspan x="63" dy="16.4">关系、中东和朝核问题，还有党的十七大</tspan><tspan x="63" dy="16.4">精神、奥运会等，让学生了解热点背后</tspan><tspan x="63" dy="16.4">的知识点，学会运用教材知识分析热点问</tspan><tspan x="63" dy="16.4">题，</tspan></text></g>
<g id="b5z7"><rect class="b" x="56" y="4231" width="266" height="96" rx="5"/><text class="t" x="63" y="4250"><tspan x="63">同时，把热点与基础知识有机结合起来，尝试</tspan><tspan x="63" dy="16.4">从不同角度、不同层面分析热点，如构建和谐</tspan><tspan x="63" dy="16.4">社会这一热点，可从经济、政治、哲学等方面</tspan><tspan x="63" dy="16.4">进行分析，加深学生对热点和基础知识的理解</tspan><tspan x="63" dy="16.4">，做到二者的有机统一。</tspan></text></g>
<g id="b5z8"><rect class="b" x="56" y="4353" width="266" height="178" rx="5"/><text class="t" x="63" y="4372"><tspan x="63">在高考复习中，必须要进行适当的强化训练。</tspan><tspan x="63" dy="16.4">强化训练能够巩固和加深学生对知识的理解和</tspan><tspan x="63" dy="16.4">掌握，提高学生运用知识解决问题的能力。</tspan><tspan x="63" dy="16.4">在训练中，我们做到精心选题，认真地准备</tspan><tspan x="63" dy="16.4">，做到有针对性，有代表性，有典型性、</tspan><tspan x="63" dy="16.4">有层次性，要求学生独立完成，做到限时</tspan><tspan x="63" dy="16.4">完成，教师要做到及时批改、及时讲评，要</tspan><tspan x="63" dy="16.4">求学生对错题进行反思，找出错误原因，查</tspan><tspan x="63" dy="16.4">漏补缺，总结规律，从而提高学生的解题</tspan><tspan x="63" dy="16.4">能力。</tspan></text></g>
<g id="b5z9"><rect class="b" x="56" y="4556" width="266" height="227" rx="5"/><text class="t" x="63" y="4575"><tspan x="63">在讲评试卷的过程中，要注意对各种类型试题</tspan><tspan x="63" dy="16.4">进行归类，帮助学生掌握各类不同类型试题</tspan><tspan x="63" dy="16.4">的解题方法和解题技巧。如在材料分析题中</tspan><tspan x="63" dy="16.4">，要让学生明白材料分析题怎样才能得</tspan><tspan x="63" dy="16.4">分，解答材料分析题的时候，要求学生首先</tspan><tspan x="63" dy="16.4">认真审题，明确设问的要求，然后从不同方</tspan><tspan x="63" dy="16.4">面对材料进行全面分析，要善于阅读材料</tspan><tspan x="63" dy="16.4">，从材料中提取有效信息，将教材知识与材料</tspan><tspan x="63" dy="16.4">有机结合起来，组织好答案，并规范表述，</tspan><tspan x="63" dy="16.4">答题做到观点明确，论证充分，层次清楚、详</tspan><tspan x="63" dy="16.4">略得当，条理清晰，使人一目了然，使阅卷人</tspan><tspan x="63" dy="16.4">容易看懂，以此提高学生解答主观性试题</tspan><tspan x="63" dy="16.4">的能力。</tspan></text></g>
<g id="b5z10"><rect class="b" x="56" y="4810" width="266" height="129" rx="5"/><text class="t" x="63" y="4829"><tspan x="63">总之，高三政治复习是一项系统工程，这一年</tspan><tspan x="63" dy="16.4">来，我和学生一起努力，认真地组织复习</tspan><tspan x="63" dy="16.4">，注重基础，突出主干，关注社会时事热</tspan><tspan x="63" dy="16.4">点，强化训练，取得了一定的成效，但也有</tspan><tspan x="63" dy="16.4">许多不足之处，在今后的教学中，我将通</tspan><tspan x="63" dy="16.4">过不断地学习和实践，不断地总结和反思</tspan><tspan x="63" dy="16.4">，提高自己的教学水平。</tspan></text></g>

<g id="br4"><rect class="g" x="1497" y="2408" width="225" height="35" rx="17"/><text class="m" x="1609" y="2431" text-anchor="middle">中学政治教学设计及反思4</text></g>
<g id="b4x1"><rect class="b" x="1745" y="1818" width="268" height="79" rx="5"/><text class="t" x="1752" y="1837"><tspan x="1752">我今年担任初二政治课教学,已经经历了两年</tspan><tspan x="1752" dy="16.4">的政治新课程教育教学实践,我感触颇深.我渐</tspan><tspan x="1752" dy="16.4">渐认识到,在政治课的教育教学过程中,可以从</tspan><tspan x="1752" dy="16.4">以下几个方面努力上好政治课.</tspan></text></g>
<g id="b4x2"><rect class="b" x="1745" y="1924" width="268" height="45" rx="5"/><text class="t" x="1752" y="1943"><tspan x="1752">1,充分树立政治教学新理念,多多运用情景教</tspan><tspan x="1752" dy="16.4">学模式.</tspan></text></g>
<g id="b4x3"><rect class="b" x="1745" y="1998" width="268" height="276" rx="5"/><text class="t" x="1752" y="2017"><tspan x="1752">随着课程改革和新课程的实施,新的教学理念</tspan><tspan x="1752" dy="16.4">正逐步深入每一位教师的心灵,它使得教学成</tspan><tspan x="1752" dy="16.4">为人的解放过程.这就要求我们要把学习的本</tspan><tspan x="1752" dy="16.4">质看作是学习者调适心理的过程,这种心理,既</tspan><tspan x="1752" dy="16.4">包括规范的拥有内在逻辑系统的,可以从多种</tspan><tspan x="1752" dy="16.4">情景中抽象出来的基本概念和原理,也包括在</tspan><tspan x="1752" dy="16.4">具体情景中所形成,与具体情景直接关联的不</tspan><tspan x="1752" dy="16.4">规范的非正式的知识和经验;建构主义教学观</tspan><tspan x="1752" dy="16.4">也要求师生分别以自己的方式建构对生活世界</tspan><tspan x="1752" dy="16.4">的多元理解,并通过合作性探讨建构起世界的</tspan><tspan x="1752" dy="16.4">意义.在实际的教学过程中,我们可以采取以学</tspan><tspan x="1752" dy="16.4">习者和问题为中心的教学策略,充分运用情景</tspan><tspan x="1752" dy="16.4">教学或支架式教学的模式,主动创设开放的,充</tspan><tspan x="1752" dy="16.4">满着意义解释和建构的学习环境;这样,学生在</tspan><tspan x="1752" dy="16.4">宽松的学习氛围里,积极主动地参与知识学习,</tspan><tspan x="1752" dy="16.4">体验快乐,增长见识,提高觉悟,培养能力.</tspan></text></g>
<g id="b4x4"><rect class="b" x="1745" y="2299" width="230" height="29" rx="5"/><text class="t" x="1752" y="2318">2,注重学生学习思想政治课的兴趣培养.</text></g>
<g id="b4x5"><rect class="b" x="1745" y="2356" width="268" height="178" rx="5"/><text class="t" x="1752" y="2375"><tspan x="1752">在情景教学中,运用各种情景的主要目的就是</tspan><tspan x="1752" dy="16.4">为了充分调动起学生学习知识的积极性和兴趣</tspan><tspan x="1752" dy="16.4">,让他们在愉快的心理状态下主动学习,这是思</tspan><tspan x="1752" dy="16.4">想政治课教学获得成功的关键.诚然,在思想政</tspan><tspan x="1752" dy="16.4">治课的教育教学过程中,我们可以运用诸如音</tspan><tspan x="1752" dy="16.4">乐,电视,广播,多媒体教室等许多现代化教学手</tspan><tspan x="1752" dy="16.4">段,以便激发学生的求知欲和新奇感.不过,我认</tspan><tspan x="1752" dy="16.4">为这只是解决了形式上的问题,要真正培养起</tspan><tspan x="1752" dy="16.4">学生学习思想政治课的兴趣,还得从课堂教学</tspan><tspan x="1752" dy="16.4">内容本身去下深工夫.</tspan></text></g>
<g id="b4c1"><rect class="b" x="1745" y="2641" width="143" height="29" rx="5"/><text class="t" x="1752" y="2660">①始终坚持启发式教学.</text></g>
<g id="b4y1"><rect class="b" x="1912" y="2562" width="268" height="194" rx="5"/><text class="t" x="1919" y="2581"><tspan x="1919">坚持启发式教学,是思想政治课教学的一条重要</tspan><tspan x="1919" dy="16.4">历史经验教训之一.特别是在实施思想政治新</tspan><tspan x="1919" dy="16.4">课程教学的过程中,我们更要坚持贯彻启发式</tspan><tspan x="1919" dy="16.4">的教学方法.启发式教学作为思想政治课教学</tspan><tspan x="1919" dy="16.4">的总方法,是思想政治课教学改革要实现的目</tspan><tspan x="1919" dy="16.4">标中的一部分,也是思想政治新课程教学改</tspan><tspan x="1919" dy="16.4">革取得成功的必然要求,我们必须坚持.近年来</tspan><tspan x="1919" dy="16.4">一些有责任感的教师在这方面已经做了许多</tspan><tspan x="1919" dy="16.4">有益的尝试.在教学实践中,我坚持深入钻研教</tspan><tspan x="1919" dy="16.4">材,发掘教学内容中的启发因素,设计富有启发</tspan><tspan x="1919" dy="16.4">性的问题.</tspan></text></g>
<g id="b4c2"><rect class="b" x="1745" y="2982" width="268" height="45" rx="5"/><text class="t" x="1752" y="3001"><tspan x="1752">②理论联系实际,国内外重大时事政治穿插运</tspan><tspan x="1752" dy="16.4">用.</tspan></text></g>
<g id="b4y2"><rect class="b" x="2036" y="2779" width="268" height="178" rx="5"/><text class="t" x="2043" y="2798"><tspan x="2043">理论联系实际是思想政治课教学中处于重要</tspan><tspan x="2043" dy="16.4">地位的基本原则.要激发学生学习思想政</tspan><tspan x="2043" dy="16.4">治课的兴趣也必须使教学内容与学生的生</tspan><tspan x="2043" dy="16.4">活实际相结合,让学生感觉到所学的内</tspan><tspan x="2043" dy="16.4">容就在我们身边,与现实生活紧密相连,</tspan><tspan x="2043" dy="16.4">它要解决的是现实生活中的问题,学了</tspan><tspan x="2043" dy="16.4">之后有用,如此才能激发学生学习政治</tspan><tspan x="2043" dy="16.4">课的动机与兴趣.因此,理论联系实际</tspan><tspan x="2043" dy="16.4">是我们要正确把握的一个原则,也是新课标的</tspan><tspan x="2043" dy="16.4">要求.</tspan></text></g>
<g id="b4y3"><rect class="b" x="2036" y="2982" width="268" height="45" rx="5"/><text class="t" x="2043" y="3001"><tspan x="2043">3,倡导研究性学习,培养学生的创新精神,努力</tspan><tspan x="2043" dy="16.4">抓好课堂教学.</tspan></text></g>
<g id="b4y4"><rect class="b" x="2036" y="3055" width="268" height="178" rx="5"/><text class="t" x="2043" y="3074"><tspan x="2043">研究性学习,是指学生在教师指导下,对某一现</tspan><tspan x="2043" dy="16.4">象进行探索,通过自主地研究,获得新的知</tspan><tspan x="2043" dy="16.4">识,并在这一过程中培养创新精神和实践技</tspan><tspan x="2043" dy="16.4">能.这显然是与新课程理念相一致的,它</tspan><tspan x="2043" dy="16.4">以问题解决为核心,把发现问题作为学习</tspan><tspan x="2043" dy="16.4">的中心任务.在思想政治课教学中,</tspan><tspan x="2043" dy="16.4">我们可以主导学生从现实生活中发现问</tspan><tspan x="2043" dy="16.4">题,提出问题,并运用所学知识分</tspan><tspan x="2043" dy="16.4">析探索问题,解决问题,从而加深学生</tspan><tspan x="2043" dy="16.4">对知识的理解.</tspan></text></g>

<g id="br6"><rect class="g" x="1495" y="3497" width="312" height="59" rx="29"/><text class="m" x="1524" y="3522"><tspan x="1524">中学政治教学设计及反思相关文章</tspan><tspan x="1524" dy="23">:</tspan></text></g>
<g id="r1"><rect class="b" x="1832" y="3259" width="212" height="28" rx="5"/><text class="t" x="1840" y="3278">★ 关于教学设计与反思高中政治5篇</text></g>
<g id="r2"><rect class="b" x="1832" y="3315" width="225" height="28" rx="5"/><text class="t" x="1840" y="3334">★ 中学政治教学设计情境教学方案5篇</text></g>
<g id="r3"><rect class="b" x="1832" y="3372" width="186" height="28" rx="5"/><text class="t" x="1840" y="3391">★ 初中政治教学反思与总结5篇</text></g>
<g id="r4"><rect class="b" x="1832" y="3428" width="184" height="28" rx="5"/><text class="t" x="1840" y="3447">★ 北京中学政治教学设计2021</text></g>
<g id="r5"><rect class="b" x="1832" y="3485" width="199" height="28" rx="5"/><text class="t" x="1840" y="3504">★ 高中政治优秀教学设计教案5篇</text></g>
<g id="r6"><rect class="b" x="1832" y="3541" width="186" height="28" rx="5"/><text class="t" x="1840" y="3560">★ 优秀思想政治课教学设计5篇</text></g>
<g id="r7"><rect class="b" x="1832" y="3597" width="179" height="28" rx="5"/><text class="t" x="1840" y="3616">★ 初中政治教学设计案例五篇</text></g>
<g id="r8"><rect class="b" x="1832" y="3654" width="174" height="28" rx="5"/><text class="t" x="1840" y="3673">★ 初中政治教案教学设计5篇</text></g>
<g id="r9"><rect class="b" x="1832" y="3710" width="212" height="28" rx="5"/><text class="t" x="1840" y="3729">★ 初中政治教学设计省赛一等奖5篇</text></g>
<g id="r10"><rect class="b" x="1832" y="3766" width="174" height="28" rx="5"/><text class="t" x="1840" y="3785">★ 高中政治教学设计方案5篇</text></g>
</g>
</svg>
